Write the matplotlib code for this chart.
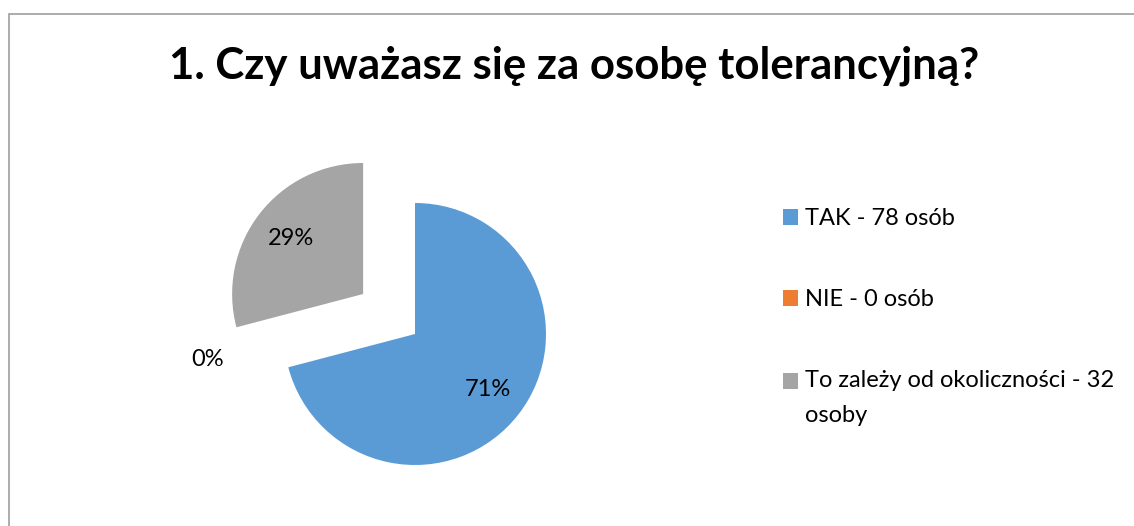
import numpy as np
import matplotlib
matplotlib.use("Agg")
import matplotlib.pyplot as plt
from matplotlib.patches import Rectangle

plt.rcParams["font.family"] = ["Lato", "DejaVu Sans"]

# data
title = "1. Czy uważasz się za osobę tolerancyjną?"
labels = ["TAK - 78 osób", "NIE - 0 osób", "To zależy od okoliczności - 32\nosoby"]
counts = [78, 0, 32]
colors = ["#5B9BD5", "#ED7D31", "#A5A5A5"]
explode = [0.0, 0.0, 0.5]

W, H = 1134, 526
fig = plt.figure(figsize=(W / 100, H / 100), dpi=100)

# chart frame
fig.patches.append(Rectangle((9 / W, -0.1), 1.2, 1.1 - 14 / H,
                             transform=fig.transFigure, fill=False,
                             edgecolor="#A6A6A6", linewidth=1.3))

ax = fig.add_axes([0, 0, 1, 1])
wedges, texts, autotexts = ax.pie(
    counts,
    colors=colors,
    explode=explode,
    startangle=90,
    counterclock=False,
    autopct="%1.0f%%",
    pctdistance=0.7,
    textprops={"fontsize": 17, "color": "black"},
)

# pie center at (415, 334) px, radius 131 px
cx, cy, r = 415, 334, 131
ax.set_xlim(-cx / r, (W - cx) / r)
ax.set_ylim(-(H - cy) / r, cy / r)
ax.set_aspect("auto")
ax.axis("off")

# zero slice label sits outside like in Excel
autotexts[1].set_position(((208 - cx) / r, (cy - 359) / r))

leg = fig.legend(
    wedges, labels,
    loc="upper left",
    bbox_to_anchor=(783 / W, 1 - 208 / H),
    bbox_transform=fig.transFigure,
    frameon=False,
    fontsize=17,
    handlelength=0.64,
    handleheight=0.64,
    handletextpad=0.3,
    labelspacing=2.55,
    borderpad=0,
    borderaxespad=0,
)
leg.texts[2].set_linespacing(1.78)
# keep the marker next to the first line of the wrapped label
h3 = leg.legend_handles[2]
h3.set_y(h3.get_y() + 17.5 * 72 / 100)

fig.text(574 / W, 1 - 78 / H, title, ha="center", va="baseline",
         fontsize=31.5, fontweight="bold")

fig.savefig("out.png", dpi=100)
